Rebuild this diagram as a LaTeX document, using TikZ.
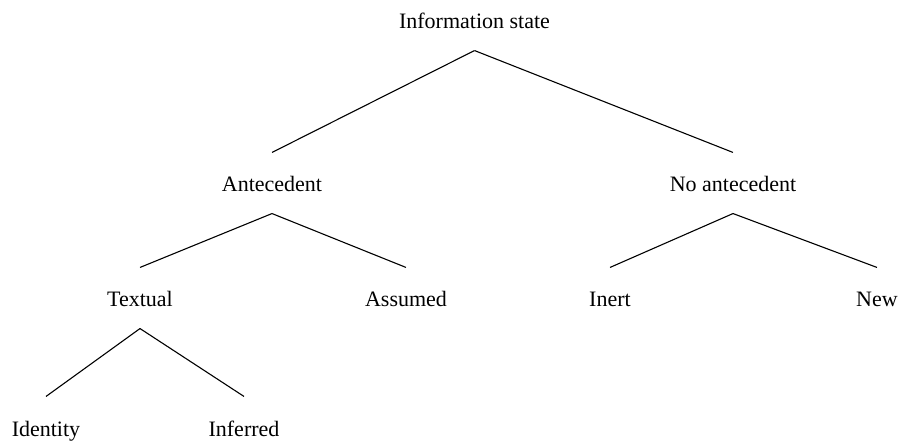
\documentclass[tikz,border=0pt]{standalone}
\usepackage{fontspec}
\setmainfont{Liberation Serif}
\usepackage{tikz}
\usetikzlibrary{positioning}
\tikzstyle{label}=[anchor=base,inner sep=0pt,text height=39pt,text depth=21pt,font=\fontsize{22}{26}\selectfont]

\begin{document}
\begin{tikzpicture}[x=1pt,y=-1pt,line width=1.1pt]
\useasboundingbox (0,0) rectangle (902,443);
\node [label] (r) at (474.5,29) {Information state};
\node [label] (a) at (272,192) {Antecedent};
\node [label] (n) at (733,192) {No antecedent};
\node [label] (t) at (140,307) {Textual};
\node [label] (s) at (406,307) {Assumed};
\node [label] (i) at (610,307) {Inert};
\node [label] (w) at (877,307) {New};
\node [label] (d) at (46,436) {Identity};
\node [label] (f) at (244,436) {Inferred};
\draw (r.south) -- (a.north);
\draw (r.south) -- (n.north);
\draw (a.south) -- (t.north);
\draw (a.south) -- (s.north);
\draw (n.south) -- (i.north);
\draw (n.south) -- (w.north);
\draw (t.south) -- (d.north);
\draw (t.south) -- (f.north);
\end{tikzpicture}
\end{document}
